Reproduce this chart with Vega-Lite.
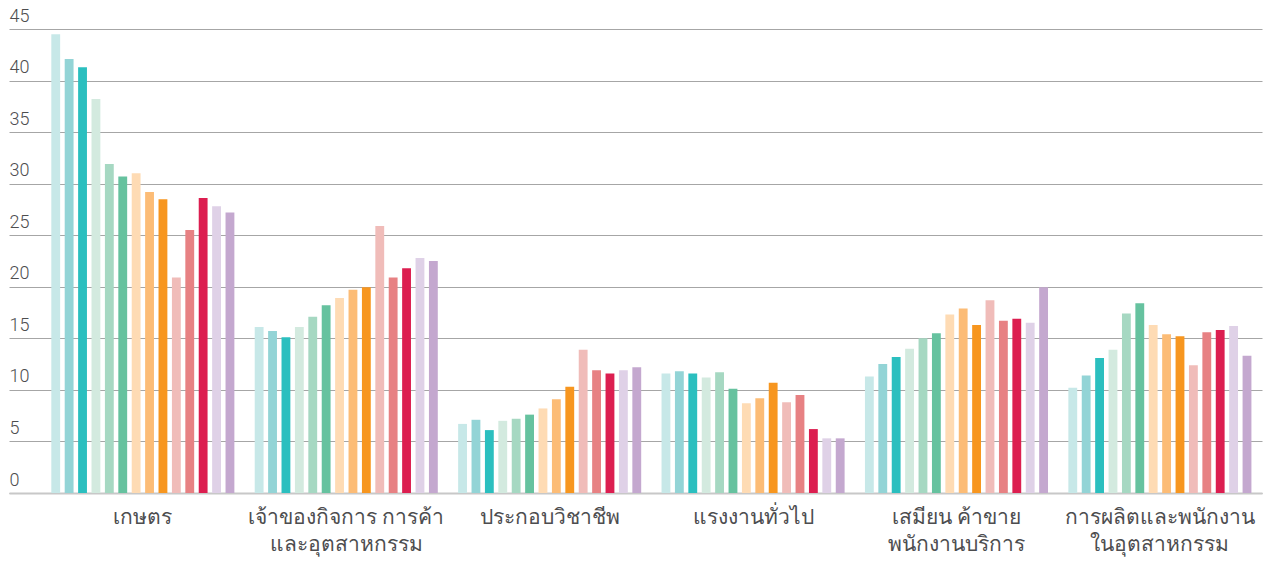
{
  "$schema": "https://vega.github.io/schema/vega-lite/v6.json",
  "width": 1253,
  "height": 464,
  "autosize": {"type": "none"},
  "padding": {"left": 9, "top": 29, "right": 12, "bottom": 70},
  "background": "white",
  "config": {
    "view": {"stroke": null},
    "font": "Noto Sans"
  },
  "data": {
    "values": [
      {"group": "เกษตร", "series": "s01", "value": 44.5},
      {"group": "เกษตร", "series": "s02", "value": 42.1},
      {"group": "เกษตร", "series": "s03", "value": 41.3},
      {"group": "เกษตร", "series": "s04", "value": 38.2},
      {"group": "เกษตร", "series": "s05", "value": 31.9},
      {"group": "เกษตร", "series": "s06", "value": 30.7},
      {"group": "เกษตร", "series": "s07", "value": 31.0},
      {"group": "เกษตร", "series": "s08", "value": 29.2},
      {"group": "เกษตร", "series": "s09", "value": 28.5},
      {"group": "เกษตร", "series": "s10", "value": 20.9},
      {"group": "เกษตร", "series": "s11", "value": 25.5},
      {"group": "เกษตร", "series": "s12", "value": 28.6},
      {"group": "เกษตร", "series": "s13", "value": 27.8},
      {"group": "เกษตร", "series": "s14", "value": 27.2},
      {"group": "เจ้าของกิจการ การค้า|และอุตสาหกรรม", "series": "s01", "value": 16.1},
      {"group": "เจ้าของกิจการ การค้า|และอุตสาหกรรม", "series": "s02", "value": 15.7},
      {"group": "เจ้าของกิจการ การค้า|และอุตสาหกรรม", "series": "s03", "value": 15.1},
      {"group": "เจ้าของกิจการ การค้า|และอุตสาหกรรม", "series": "s04", "value": 16.1},
      {"group": "เจ้าของกิจการ การค้า|และอุตสาหกรรม", "series": "s05", "value": 17.1},
      {"group": "เจ้าของกิจการ การค้า|และอุตสาหกรรม", "series": "s06", "value": 18.2},
      {"group": "เจ้าของกิจการ การค้า|และอุตสาหกรรม", "series": "s07", "value": 18.9},
      {"group": "เจ้าของกิจการ การค้า|และอุตสาหกรรม", "series": "s08", "value": 19.7},
      {"group": "เจ้าของกิจการ การค้า|และอุตสาหกรรม", "series": "s09", "value": 19.95},
      {"group": "เจ้าของกิจการ การค้า|และอุตสาหกรรม", "series": "s10", "value": 25.9},
      {"group": "เจ้าของกิจการ การค้า|และอุตสาหกรรม", "series": "s11", "value": 20.9},
      {"group": "เจ้าของกิจการ การค้า|และอุตสาหกรรม", "series": "s12", "value": 21.8},
      {"group": "เจ้าของกิจการ การค้า|และอุตสาหกรรม", "series": "s13", "value": 22.8},
      {"group": "เจ้าของกิจการ การค้า|และอุตสาหกรรม", "series": "s14", "value": 22.5},
      {"group": "ประกอบวิชาชีพ", "series": "s01", "value": 6.7},
      {"group": "ประกอบวิชาชีพ", "series": "s02", "value": 7.1},
      {"group": "ประกอบวิชาชีพ", "series": "s03", "value": 6.1},
      {"group": "ประกอบวิชาชีพ", "series": "s04", "value": 7.0},
      {"group": "ประกอบวิชาชีพ", "series": "s05", "value": 7.2},
      {"group": "ประกอบวิชาชีพ", "series": "s06", "value": 7.6},
      {"group": "ประกอบวิชาชีพ", "series": "s07", "value": 8.2},
      {"group": "ประกอบวิชาชีพ", "series": "s08", "value": 9.1},
      {"group": "ประกอบวิชาชีพ", "series": "s09", "value": 10.3},
      {"group": "ประกอบวิชาชีพ", "series": "s10", "value": 13.9},
      {"group": "ประกอบวิชาชีพ", "series": "s11", "value": 11.9},
      {"group": "ประกอบวิชาชีพ", "series": "s12", "value": 11.6},
      {"group": "ประกอบวิชาชีพ", "series": "s13", "value": 11.9},
      {"group": "ประกอบวิชาชีพ", "series": "s14", "value": 12.2},
      {"group": "แรงงานทั่วไป", "series": "s01", "value": 11.6},
      {"group": "แรงงานทั่วไป", "series": "s02", "value": 11.8},
      {"group": "แรงงานทั่วไป", "series": "s03", "value": 11.6},
      {"group": "แรงงานทั่วไป", "series": "s04", "value": 11.2},
      {"group": "แรงงานทั่วไป", "series": "s05", "value": 11.7},
      {"group": "แรงงานทั่วไป", "series": "s06", "value": 10.1},
      {"group": "แรงงานทั่วไป", "series": "s07", "value": 8.7},
      {"group": "แรงงานทั่วไป", "series": "s08", "value": 9.2},
      {"group": "แรงงานทั่วไป", "series": "s09", "value": 10.7},
      {"group": "แรงงานทั่วไป", "series": "s10", "value": 8.8},
      {"group": "แรงงานทั่วไป", "series": "s11", "value": 9.5},
      {"group": "แรงงานทั่วไป", "series": "s12", "value": 6.2},
      {"group": "แรงงานทั่วไป", "series": "s13", "value": 5.3},
      {"group": "แรงงานทั่วไป", "series": "s14", "value": 5.3},
      {"group": "เสมียน ค้าขาย|พนักงานบริการ", "series": "s01", "value": 11.3},
      {"group": "เสมียน ค้าขาย|พนักงานบริการ", "series": "s02", "value": 12.5},
      {"group": "เสมียน ค้าขาย|พนักงานบริการ", "series": "s03", "value": 13.2},
      {"group": "เสมียน ค้าขาย|พนักงานบริการ", "series": "s04", "value": 14.0},
      {"group": "เสมียน ค้าขาย|พนักงานบริการ", "series": "s05", "value": 15.0},
      {"group": "เสมียน ค้าขาย|พนักงานบริการ", "series": "s06", "value": 15.5},
      {"group": "เสมียน ค้าขาย|พนักงานบริการ", "series": "s07", "value": 17.3},
      {"group": "เสมียน ค้าขาย|พนักงานบริการ", "series": "s08", "value": 17.9},
      {"group": "เสมียน ค้าขาย|พนักงานบริการ", "series": "s09", "value": 16.3},
      {"group": "เสมียน ค้าขาย|พนักงานบริการ", "series": "s10", "value": 18.7},
      {"group": "เสมียน ค้าขาย|พนักงานบริการ", "series": "s11", "value": 16.7},
      {"group": "เสมียน ค้าขาย|พนักงานบริการ", "series": "s12", "value": 16.9},
      {"group": "เสมียน ค้าขาย|พนักงานบริการ", "series": "s13", "value": 16.5},
      {"group": "เสมียน ค้าขาย|พนักงานบริการ", "series": "s14", "value": 19.95},
      {"group": "การผลิตและพนักงาน|ในอุตสาหกรรม", "series": "s01", "value": 10.2},
      {"group": "การผลิตและพนักงาน|ในอุตสาหกรรม", "series": "s02", "value": 11.4},
      {"group": "การผลิตและพนักงาน|ในอุตสาหกรรม", "series": "s03", "value": 13.1},
      {"group": "การผลิตและพนักงาน|ในอุตสาหกรรม", "series": "s04", "value": 13.9},
      {"group": "การผลิตและพนักงาน|ในอุตสาหกรรม", "series": "s05", "value": 17.4},
      {"group": "การผลิตและพนักงาน|ในอุตสาหกรรม", "series": "s06", "value": 18.4},
      {"group": "การผลิตและพนักงาน|ในอุตสาหกรรม", "series": "s07", "value": 16.3},
      {"group": "การผลิตและพนักงาน|ในอุตสาหกรรม", "series": "s08", "value": 15.4},
      {"group": "การผลิตและพนักงาน|ในอุตสาหกรรม", "series": "s09", "value": 15.2},
      {"group": "การผลิตและพนักงาน|ในอุตสาหกรรม", "series": "s10", "value": 12.4},
      {"group": "การผลิตและพนักงาน|ในอุตสาหกรรม", "series": "s11", "value": 15.6},
      {"group": "การผลิตและพนักงาน|ในอุตสาหกรรม", "series": "s12", "value": 15.8},
      {"group": "การผลิตและพนักงาน|ในอุตสาหกรรม", "series": "s13", "value": 16.2},
      {"group": "การผลิตและพนักงาน|ในอุตสาหกรรม", "series": "s14", "value": 13.3}
    ]
  },
  "mark": {"type": "bar"},
  "encoding": {
    "x": {
      "field": "group",
      "type": "nominal",
      "sort": null,
      "title": null,
      "scale": {"paddingInner": 0.1, "paddingOuter": 0.13, "align": 0.8},
      "axis": {
        "labelAngle": 0,
        "labelExpr": "split(datum.label, '|')",
        "labelFontSize": 21,
        "labelColor": "#4d4d4f",
        "labelLineHeight": 27,
        "labelPadding": 13,
        "labelBaseline": "top",
        "ticks": false,
        "domain": true,
        "domainColor": "#c8c8c8",
        "domainWidth": 2,
        "labelLimit": 0
      }
    },
    "xOffset": {
      "field": "series",
      "type": "nominal",
      "sort": null,
      "scale": {"paddingInner": 0.34, "paddingOuter": 0}
    },
    "y": {
      "field": "value",
      "type": "quantitative",
      "title": null,
      "scale": {"domain": [0, 45], "nice": false},
      "axis": {
        "values": [0, 5, 10, 15, 20, 25, 30, 35, 40, 45],
        "domain": false,
        "ticks": false,
        "gridColor": "#a6a6a6",
        "gridWidth": 1,
        "labelAlign": "left",
        "labelBaseline": "alphabetic",
        "labelPadding": 0,
        "labelOffset": -8,
        "labelFont": "Roboto",
        "labelFontWeight": 300,
        "labelFontSize": 18,
        "labelColor": "#4d4d4f",
        "labelBound": false,
        "labelOverlap": false,
        "labelFlush": false
      }
    },
    "color": {
      "field": "series",
      "type": "nominal",
      "sort": null,
      "legend": null,
      "scale": {
        "domain": ["s01", "s02", "s03", "s04", "s05", "s06", "s07", "s08", "s09", "s10", "s11", "s12", "s13", "s14"],
        "range": ["#c7e8e8", "#93d4d6", "#2bbfbf", "#d3eadf", "#a6d8c2", "#66c29f", "#fedbb4", "#fcbc76", "#f7961f", "#f0bcb9", "#e78183", "#dc1e50", "#dfd1e7", "#c4a8cf"]
      }
    }
  }
}
